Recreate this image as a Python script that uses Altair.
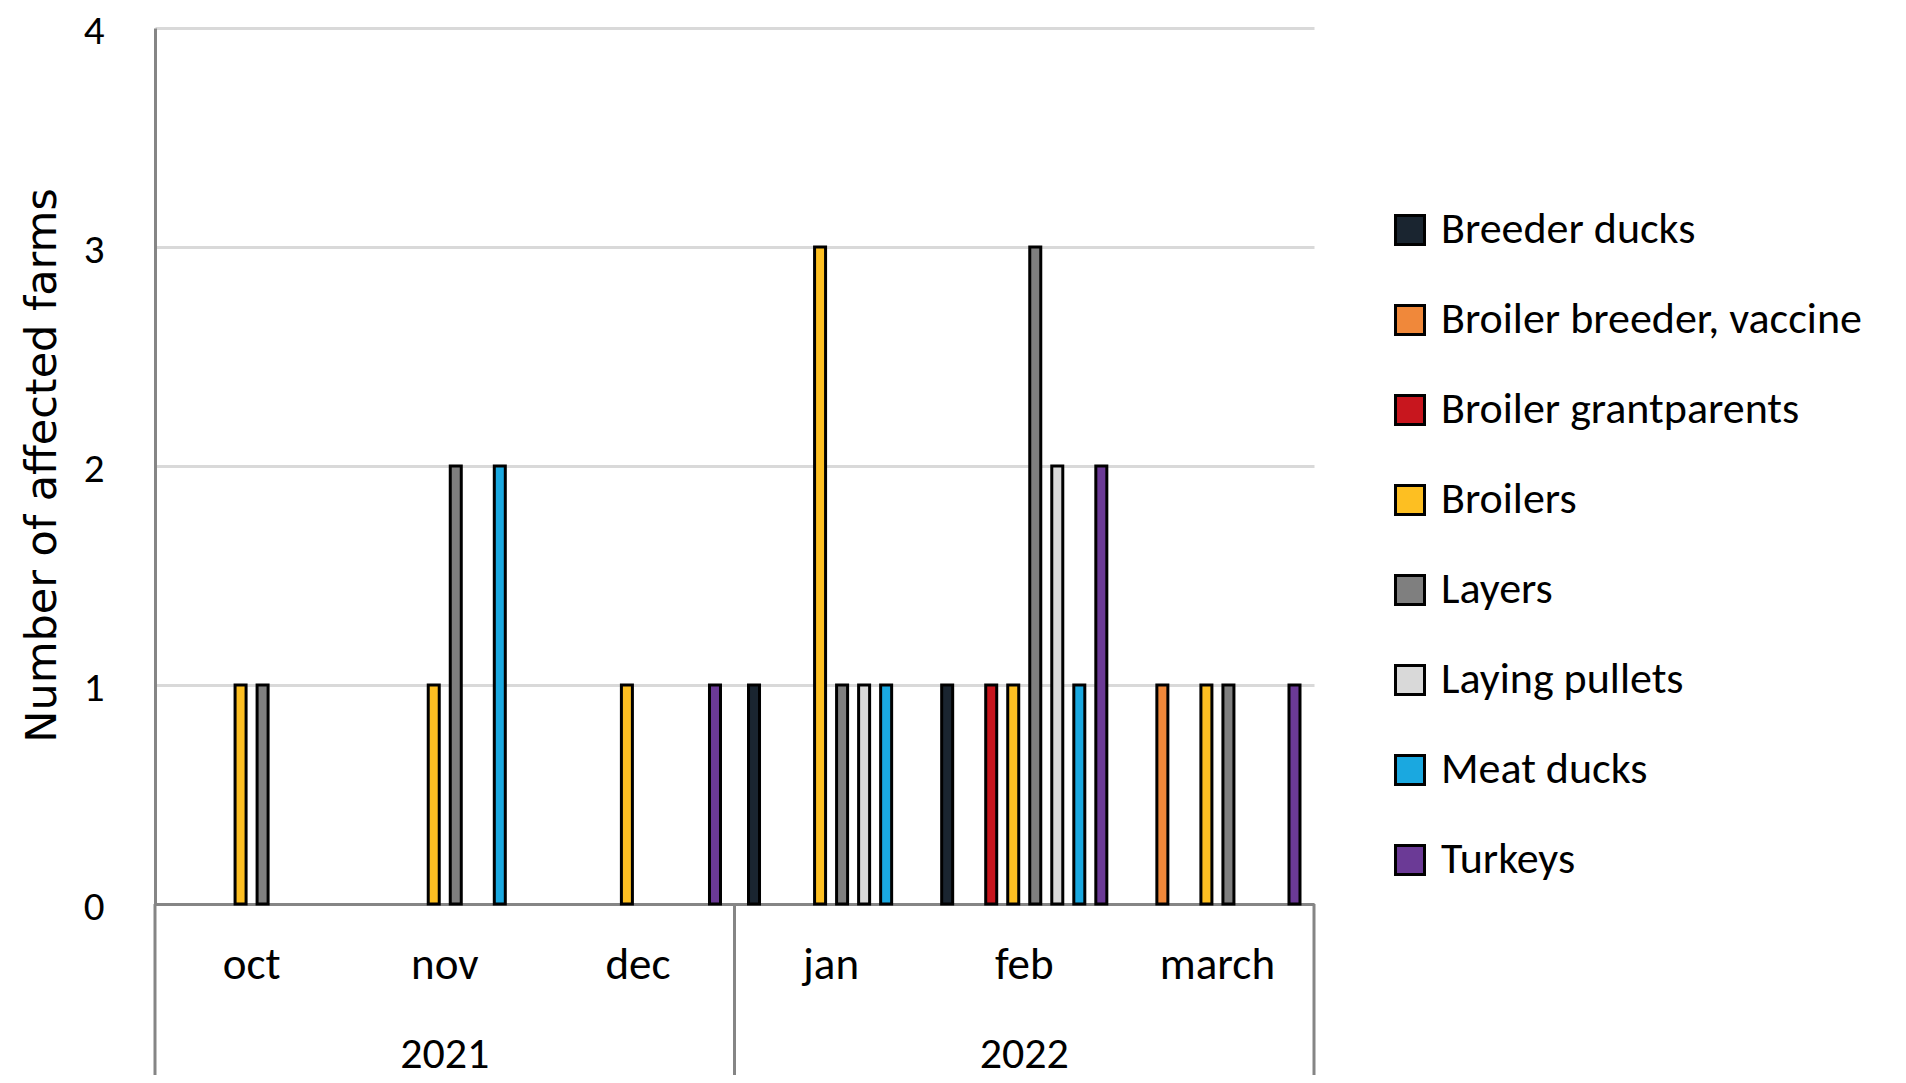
import altair as alt
import pandas as pd

months = ["oct", "nov", "dec", "jan", "feb", "march"]
series = [
    "Breeder ducks",
    "Broiler breeder, vaccine",
    "Broiler grantparents",
    "Broilers",
    "Layers",
    "Laying pullets",
    "Meat ducks",
    "Turkeys",
]
colors = ["#1a2530", "#f0883a", "#c8161e", "#fdbf22", "#7f7f7f", "#d9d9d9", "#1aa8e0", "#6b3a96"]

breeder_ducks = [0, 0, 0, 1, 1, 0]
broiler_breeder_vaccine = [0, 0, 0, 0, 0, 1]
broiler_grantparents = [0, 0, 0, 0, 1, 0]
broilers = [1, 1, 1, 3, 1, 1]
layers = [1, 2, 0, 1, 3, 1]
laying_pullets = [0, 0, 0, 1, 2, 0]
meat_ducks = [0, 2, 0, 1, 1, 0]
turkeys = [0, 0, 1, 0, 2, 1]

years = ["2021", "2022"]
year_mid_month = ["nov", "feb"]
year_first_month = ["oct", "jan"]

values = [breeder_ducks, broiler_breeder_vaccine, broiler_grantparents, broilers,
          layers, laying_pullets, meat_ducks, turkeys]
rows = []
for s, vals in zip(series, values):
    for m, v in zip(months, vals):
        rows.append({"month": m, "series": s, "value": v})
df = pd.DataFrame(rows)

FONT = "Carlito, Lato, sans-serif"
W, H = 1159, 876
AXIS_GRAY = "#858585"

xscale = alt.Scale(domain=months, paddingInner=0, paddingOuter=0)

bars = alt.Chart(df).transform_filter(alt.datum.value > 0).mark_bar(
    stroke="black", strokeWidth=3
).encode(
    x=alt.X("month:N", sort=months, scale=xscale,
            axis=alt.Axis(title=None, labelAngle=0, ticks=False, domainColor=AXIS_GRAY,
                          domainWidth=3, labelFontSize=45, labelFont=FONT, labelColor="black",
                          labelPadding=74, labelBaseline="alphabetic", grid=False)),
    xOffset=alt.XOffset("series:N", scale=alt.Scale(domain=series, paddingInner=0.5, paddingOuter=0.636)),
    y=alt.Y("value:Q", scale=alt.Scale(domain=[0, 4]),
            axis=alt.Axis(values=[0, 1, 2, 3, 4], title="Number of affected farms", grid=True,
                          gridColor="#d9d9d9", gridWidth=3, domainColor=AXIS_GRAY, domainWidth=3,
                          ticks=False, labelFontSize=41, labelFont=FONT, labelColor="black",
                          labelBaseline="alphabetic", labelOffset=15,
                          labelPadding=51, titleFont="DejaVu Sans", titleFontSize=43,
                          titleFontWeight="normal", titleColor="black",
                          titleX=-100, titleY=437, titleBaseline="alphabetic")),
    color=alt.Color("series:N", scale=alt.Scale(domain=series, range=colors),
                    legend=alt.Legend(title=None, orient="none", legendX=1233, legendY=180,
                                      symbolType="square", symbolSize=841,
                                      symbolStrokeColor="black", symbolStrokeWidth=3,
                                      labelFontSize=44, labelFont=FONT, labelColor="black",
                                      labelLimit=0, rowPadding=46, labelOffset=9)),
)

year_df = pd.DataFrame({"mid": year_mid_month, "first": year_first_month, "year": years})
year_text = alt.Chart(year_df).mark_text(
    fontSize=44, font=FONT, color="black", baseline="alphabetic"
).encode(
    x=alt.X("mid:N", sort=months, scale=xscale),
    y=alt.value(1040),
    text="year:N",
)

# group separators below the baseline: start of each year group, and the right edge
sep_groups = alt.Chart(year_df).mark_rule(color=AXIS_GRAY, strokeWidth=3).encode(
    x=alt.X("first:N", sort=months, scale=xscale, bandPosition=0),
    y=alt.value(H),
    y2=alt.value(H + 200),
)
sep_right = alt.Chart(year_df).transform_filter(alt.datum.year == years[-1]).mark_rule(
    color=AXIS_GRAY, strokeWidth=3
).encode(
    x=alt.value(W),
    y=alt.value(H),
    y2=alt.value(H + 200),
)

chart = alt.layer(bars, sep_groups, sep_right, year_text).properties(
    width=W, height=H,
    background="white",
    autosize=alt.AutoSizeParams(type="none"),
    padding={"left": 147, "top": 20, "right": 580, "bottom": 171},
).configure_view(stroke="white", strokeOpacity=0, strokeWidth=0).configure_axisX(grid=False)

chart.save("out.html", embed_options={"renderer": "svg", "actions": False})
